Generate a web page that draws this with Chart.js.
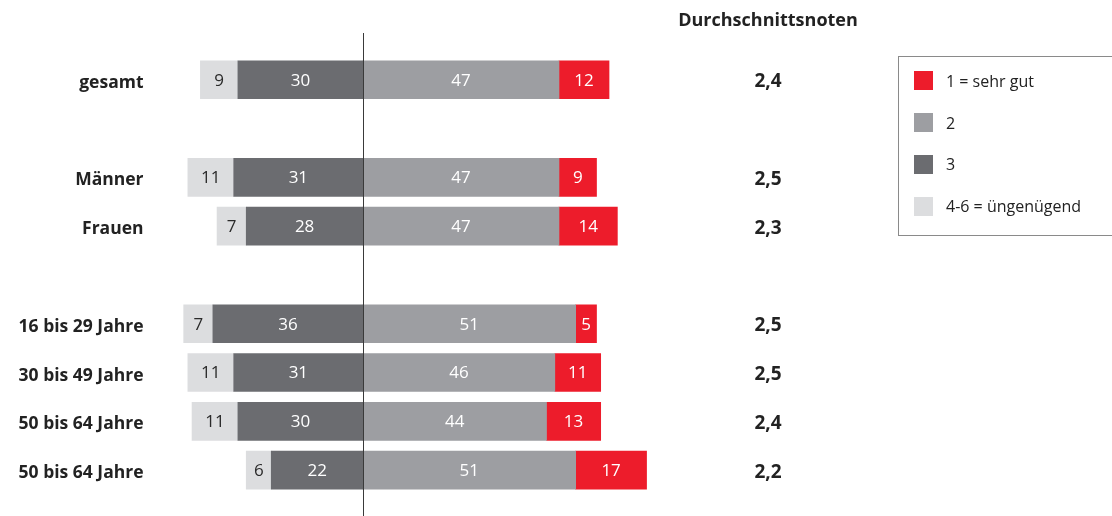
<!DOCTYPE html>
<html lang="de">
<head>
<meta charset="utf-8">
<title>Durchschnittsnoten</title>
<script src="https://cdn.jsdelivr.net/npm/chart.js@4.4.0/dist/chart.umd.min.js"></script>
<style>
  html, body { margin: 0; padding: 0; background: #fff; overflow: hidden; }
  #wrap { position: relative; width: 1112px; height: 516px; }
  #custom-legend {
    position: absolute; left: 898px; top: 56px; width: 230px; height: 180px;
    border: 1px solid #8a8a8a; box-sizing: border-box; padding-top: 3px;
    font-family: "Open Sans", sans-serif; font-size: 16px; color: #222;
  }
  .legend-item { height: 41.8px; display: flex; align-items: center; }
  .legend-color-box { width: 19px; height: 19px; margin-left: 15px; margin-right: 13px; }
</style>
</head>
<body>
<div id="wrap">
  <canvas id="notenChart"></canvas>
  <div id="custom-legend"></div>
</div>
<script>
// Kategorien (leere Einträge = Abstand zwischen Gruppen)
const categories = ['gesamt', '', 'Männer', 'Frauen', '', '16 bis 29 Jahre', '30 bis 49 Jahre', '50 bis 64 Jahre', '50 bis 64 Jahre'];

// Anteile in Prozent
const note1 = [12, null, 9, 14, null, 5, 11, 13, 17];      // 1 = sehr gut
const note2 = [47, null, 47, 47, null, 51, 46, 44, 51];    // 2
const note3 = [30, null, 31, 28, null, 36, 31, 30, 22];    // 3
const note4bis6 = [9, null, 11, 7, null, 7, 11, 11, 6];    // 4-6 = ungenügend

// Durchschnittsnoten
const averages = ['2,4', null, '2,5', '2,3', null, '2,5', '2,5', '2,4', '2,2'];

const colors = {
  rot: '#ed1c2b',
  mittel: '#9d9ea2',
  dunkel: '#6b6c70',
  hell: '#dcdddf'
};

const FONT = '"Open Sans", sans-serif';

// Mittellinie bei 0
const zeroLine = {
  id: 'zeroLine',
  afterDatasetsDraw(chart) {
    const ctx = chart.ctx;
    const x = Math.round(chart.scales.x.getPixelForValue(0)) + 0.5;
    ctx.save();
    ctx.strokeStyle = '#3a3a3a';
    ctx.lineWidth = 1;
    ctx.beginPath();
    ctx.moveTo(x, 33);
    ctx.lineTo(x, chart.height);
    ctx.stroke();
    ctx.restore();
  }
};

// Zahlen in den Balken
const barValues = {
  id: 'barValues',
  afterDatasetsDraw(chart) {
    const ctx = chart.ctx;
    ctx.save();
    ctx.font = '17px ' + FONT;
    ctx.textAlign = 'center';
    ctx.textBaseline = 'middle';
    chart.data.datasets.forEach((ds, i) => {
      const meta = chart.getDatasetMeta(i);
      meta.data.forEach((bar, j) => {
        const v = ds.data[j];
        if (v === null || v === undefined) return;
        ctx.fillStyle = ds.textColor;
        ctx.fillText(String(Math.abs(v)), (bar.x + bar.base) / 2, bar.y + 1);
      });
    });
    ctx.restore();
  }
};

// Spalte Durchschnittsnoten
const averageColumn = {
  id: 'averageColumn',
  afterDraw(chart) {
    const ctx = chart.ctx;
    const yScale = chart.scales.y;
    const cx = 768;
    ctx.save();
    ctx.fillStyle = '#222';
    ctx.textAlign = 'center';
    ctx.textBaseline = 'middle';
    ctx.font = 'bold 18px ' + FONT;
    ctx.fillText('Durchschnittsnoten', cx, 21);
    ctx.font = 'bold 19px ' + FONT;
    averages.forEach((a, i) => {
      if (!a) return;
      ctx.fillText(a, cx, yScale.getPixelForValue(i) + 2);
    });
    ctx.restore();
  }
};

const ctx = document.getElementById('notenChart').getContext('2d');

const notenChart = new Chart(ctx, {
  type: 'bar',
  data: {
    labels: categories,
    datasets: [
      { label: '3', data: note3.map(v => v === null ? null : -v), backgroundColor: colors.dunkel, textColor: '#fff' },
      { label: '4-6 = üngenügend', data: note4bis6.map(v => v === null ? null : -v), backgroundColor: colors.hell, textColor: '#2a2a2a' },
      { label: '2', data: note2, backgroundColor: colors.mittel, textColor: '#fff' },
      { label: '1 = sehr gut', data: note1, backgroundColor: colors.rot, textColor: '#fff' }
    ]
  },
  options: {
    indexAxis: 'y',
    responsive: true,
    maintainAspectRatio: false,
    animation: false,
    layout: { padding: { top: 55.4, bottom: 16.8, left: 0, right: 332 } },
    datasets: { bar: { barThickness: 38, borderWidth: 0 } },
    scales: {
      x: {
        stacked: true,
        min: -50,
        max: 100,
        display: false
      },
      y: {
        stacked: true,
        grid: { display: false, drawTicks: false },
        border: { display: false },
        ticks: {
          padding: 11,
          labelOffset: 3,
          color: '#222',
          font: { family: FONT, size: 17.5, weight: 'bold' }
        },
        afterFit(scale) { scale.width = 154.5; }
      }
    },
    plugins: {
      legend: { display: false },
      tooltip: { enabled: false }
    }
  },
  plugins: [zeroLine, barValues, averageColumn]
});

// HTML-Legende in der Reihenfolge 1, 2, 3, 4-6
const legendContainer = document.getElementById('custom-legend');
[3, 2, 0, 1].forEach(idx => {
  const ds = notenChart.data.datasets[idx];
  const item = document.createElement('div');
  item.className = 'legend-item';
  item.innerHTML = `<span class="legend-color-box" style="background-color: ${ds.backgroundColor}"></span><span class="legend-label">${ds.label}</span>`;
  legendContainer.appendChild(item);
});
</script>
</body>
</html>
